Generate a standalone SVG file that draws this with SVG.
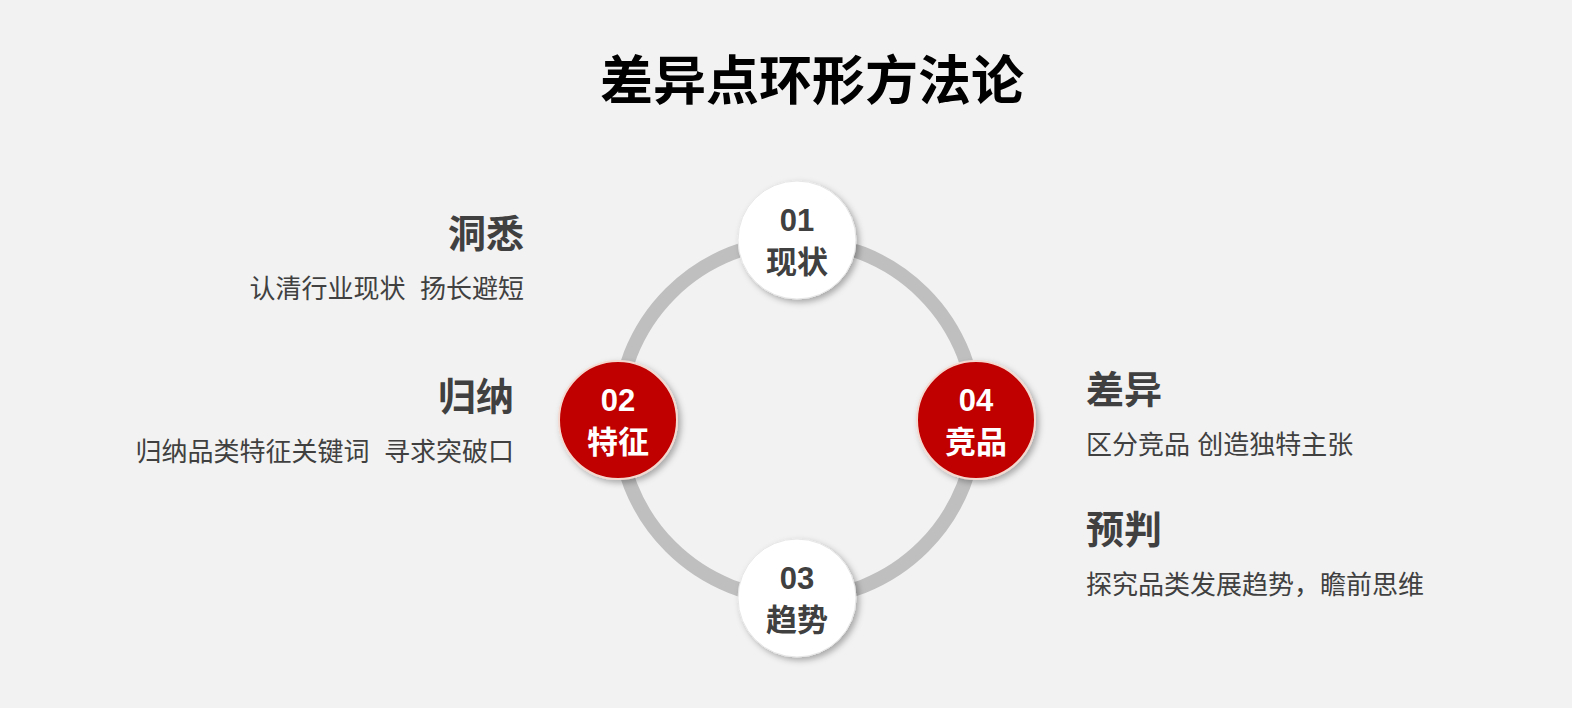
<svg xmlns="http://www.w3.org/2000/svg" width="1572" height="708" viewBox="0 0 1572 708">
<defs>
<filter id="sh" x="-30%" y="-30%" width="160%" height="160%"><feDropShadow dx="3" dy="3" stdDeviation="3" flood-color="#000" flood-opacity="0.3"/></filter>
<style>
text{font-family:"Liberation Sans","Noto Sans CJK SC",sans-serif}
.num{font-size:31px;font-weight:bold;text-anchor:middle}
.h{font-size:38px;font-weight:bold;fill:#404040}
.d{font-size:26px;fill:#404040}
.w{fill:#fff;stroke:#e6e6e6;stroke-width:1}
.r{fill:#c00000;stroke:#f4d9d0;stroke-width:2}
</style>
</defs>
<rect width="1572" height="708" fill="#f2f2f2"/>
<text x="812" y="100" font-size="53" font-weight="bold" text-anchor="middle" fill="#000">差异点环形方法论</text>
<g id="connectors"><circle cx="797" cy="420" r="179" fill="none" stroke="#bfbfbf" stroke-width="14"/></g>
<g id="n01"><circle class="w" cx="797" cy="240" r="59" filter="url(#sh)"/><text class="num" x="797" y="231" fill="#404040">01</text><text class="num" x="797" y="273" fill="#404040">现状</text></g>
<g id="n02"><circle class="r" cx="618" cy="420" r="59" filter="url(#sh)"/><text class="num" x="618" y="411" fill="#fff">02</text><text class="num" x="618" y="453" fill="#fff">特征</text></g>
<g id="n04"><circle class="r" cx="976" cy="420" r="59" filter="url(#sh)"/><text class="num" x="976" y="411" fill="#fff">04</text><text class="num" x="976" y="453" fill="#fff">竞品</text></g>
<g id="n03"><circle class="w" cx="797" cy="598" r="59" filter="url(#sh)"/><text class="num" x="797" y="589" fill="#404040">03</text><text class="num" x="797" y="631" fill="#404040">趋势</text></g>
<g id="t1"><text class="h" x="524" y="247" text-anchor="end">洞悉</text><text class="d" x="524" y="298" text-anchor="end" xml:space="preserve">认清行业现状  扬长避短</text></g>
<g id="t2"><text class="h" x="514" y="410" text-anchor="end">归纳</text><text class="d" x="514" y="461" text-anchor="end" xml:space="preserve">归纳品类特征关键词  寻求突破口</text></g>
<g id="t3"><text class="h" x="1086" y="403">差异</text><text class="d" x="1086" y="454">区分竞品 创造独特主张</text></g>
<g id="t4"><text class="h" x="1086" y="543">预判</text><text class="d" x="1086" y="594">探究品类发展趋势，瞻前思维</text></g>
</svg>
